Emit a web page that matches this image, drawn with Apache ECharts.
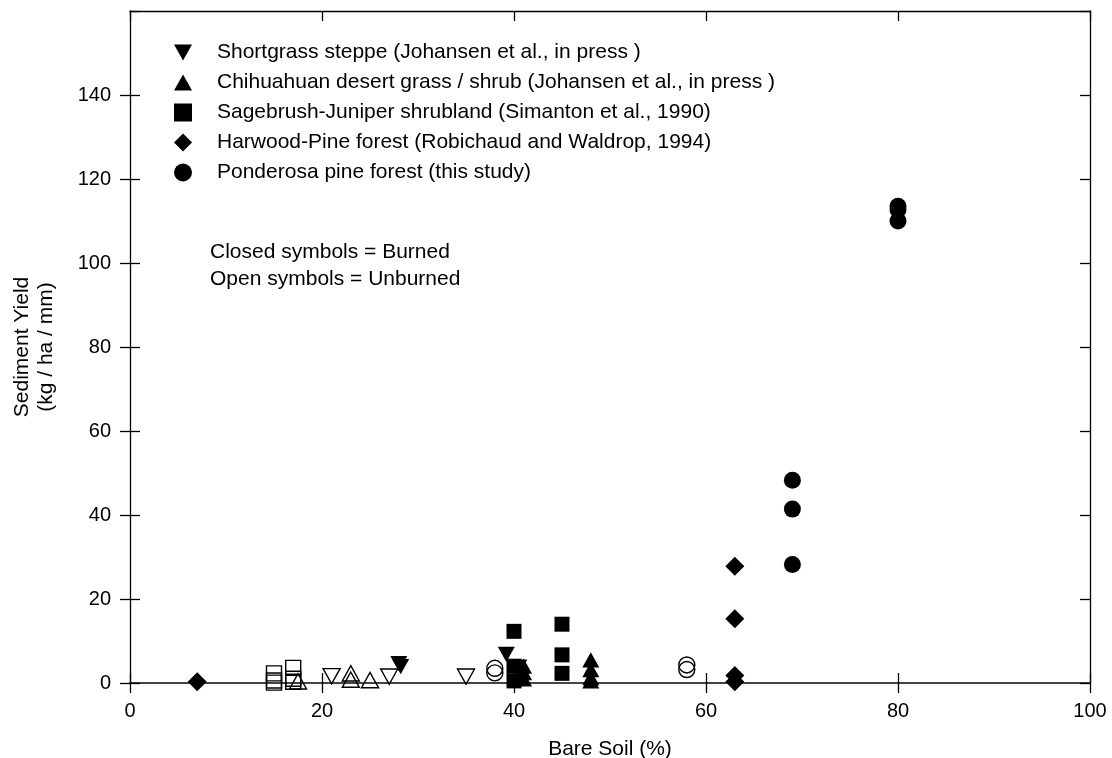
<!DOCTYPE html>
<html>
<head>
<meta charset="utf-8">
<script src="https://cdn.jsdelivr.net/npm/echarts@6/dist/echarts.min.js"></script>
<style>
  html, body { margin: 0; padding: 0; background: #fff; }
  #chart { width: 1112px; height: 758px; }
</style>
</head>
<body>
<div id="chart"></div>
<script>
// [bare soil %, sediment yield kg/ha/mm]
const shortgrassBurned = [[28, 4.6], [28.2, 3.9], [39.2, 6.8], [40.5, 3.8]];
const shortgrassUnburned = [[21, 1.6], [27, 1.5], [35, 1.5]];
const chihuahuanBurned = [[41, 4.0], [41, 2.5], [41, 1.0], [48, 5.5], [48, 3.2], [48, 1.3], [48, 0.5]];
const chihuahuanUnburned = [[17.5, 0.4], [23, 2.3], [23, 0.8], [25, 0.7]];
const sagebrushBurned = [[40, 12.3], [40, 4.0], [40, 0.5], [45, 14.0], [45, 6.7], [45, 2.3]];
const sagebrushUnburned = [[15, 2.3], [15, 0.6], [15, 0.1], [17, 3.6], [17, 1.0], [17, 0.3]];
const harwoodBurned = [[7, 0.3], [63, 27.8], [63, 15.3], [63, 1.8], [63, 0.3]];
const ponderosaBurned = [[69, 48.3], [69, 41.4], [69, 28.2], [80, 113.5], [80, 112.7], [80, 110.0]];
const ponderosaUnburned = [[38, 3.5], [38, 2.4], [58, 4.3], [58, 3.2]];

const legendNames = [
  'Shortgrass steppe (Johansen et al., in press )',
  'Chihuahuan desert grass / shrub (Johansen et al., in press )',
  'Sagebrush-Juniper shrubland (Simanton et al., 1990)',
  'Harwood-Pine forest (Robichaud and Waldrop, 1994)',
  'Ponderosa pine forest (this study)'
];
const noteLines = ['Closed symbols = Burned', 'Open symbols = Unburned'];

const FONT = '"Liberation Sans", Arial, Helvetica, sans-serif';
const FS = 20;
const FS_TEXT = 21;
const downTri = 'path://M0,0 L10,0 L5,9 Z';
const upTri = 'path://M5,0 L10,9 L0,9 Z';

const closed = { color: '#000', opacity: 1 };
const open = { color: 'transparent', borderColor: '#000', borderWidth: 1.4, opacity: 1 };

function scatter(name, data, symbol, size, style) {
  return {
    name, type: 'scatter', data, symbol, symbolSize: size,
    symbolKeepAspect: true, itemStyle: style, emphasis: { disabled: true },
    xAxisIndex: 0, yAxisIndex: 0
  };
}

const chart = echarts.init(document.getElementById('chart'));

const tickStyle = { lineStyle: { color: '#000', width: 1.3 }, length: 10 };
const frameLine = { show: true, onZero: false, lineStyle: { color: '#000', width: 1.3 } };
const gridBox = { left: 130, right: 22, top: 11, bottom: 75, outerBoundsMode: 'none', containLabel: false };
const xRange = { type: 'value', min: 0, max: 100, interval: 20 };
const yRange = { type: 'value', min: 0, max: 160, interval: 20 };

chart.setOption({
  animation: false,
  textStyle: { fontFamily: FONT },
  // three stacked grids: labelled axes, opposite frame, inward tick halves
  grid: [Object.assign({}, gridBox), Object.assign({}, gridBox), Object.assign({}, gridBox)],
  legend: {
    data: legendNames,
    orient: 'vertical',
    left: 169,
    top: 37,
    itemWidth: 18,
    itemHeight: 18,
    itemGap: 9,
    textStyle: { fontSize: FS_TEXT, color: '#000', fontFamily: FONT, padding: [0, 0, 0, 20] },
    selectedMode: false
  },
  graphic: [{
    type: 'text', left: 210, top: 239,
    style: { text: noteLines.join('\n'), font: FS_TEXT + 'px ' + FONT, fill: '#000', lineHeight: 27 }
  }],
  xAxis: [
    Object.assign({}, xRange, {
      gridIndex: 0, position: 'bottom',
      name: 'Bare Soil (%)', nameLocation: 'middle', nameGap: 56,
      nameTextStyle: { fontSize: FS_TEXT, color: '#000' },
      axisLine: { show: true, onZero: false, lineStyle: { color: '#444', width: 1.8 } },
      axisTick: Object.assign({ inside: false }, tickStyle),
      axisLabel: { fontSize: FS, color: '#000', margin: 18 },
      splitLine: { show: false }
    }),
    Object.assign({}, xRange, {
      gridIndex: 1, position: 'top', axisLine: frameLine,
      axisLabel: { show: false }, axisTick: Object.assign({ inside: true }, tickStyle),
      splitLine: { show: false }
    }),
    Object.assign({}, xRange, {
      gridIndex: 2, position: 'bottom', axisLine: { show: false },
      axisLabel: { show: false }, axisTick: Object.assign({ inside: true }, tickStyle),
      splitLine: { show: false }
    })
  ],
  yAxis: [
    Object.assign({}, yRange, {
      gridIndex: 0, position: 'left',
      name: 'Sediment Yield\n(kg / ha / mm)', nameLocation: 'middle', nameGap: 72,
      nameTextStyle: { fontSize: FS_TEXT, color: '#000', lineHeight: 24 },
      axisLine: frameLine,
      axisTick: Object.assign({ inside: false }, tickStyle),
      axisLabel: { fontSize: FS, color: '#000', margin: 19, showMaxLabel: false },
      splitLine: { show: false }
    }),
    Object.assign({}, yRange, {
      gridIndex: 1, position: 'right', axisLine: frameLine,
      axisLabel: { show: false }, axisTick: Object.assign({ inside: true }, tickStyle),
      splitLine: { show: false }
    }),
    Object.assign({}, yRange, {
      gridIndex: 2, position: 'left', axisLine: { show: false },
      axisLabel: { show: false }, axisTick: Object.assign({ inside: true }, tickStyle),
      splitLine: { show: false }
    })
  ],
  series: [
    scatter(legendNames[0], shortgrassBurned, downTri, 17, closed),
    scatter('Shortgrass steppe unburned', shortgrassUnburned, downTri, 17, open),
    scatter(legendNames[1], chihuahuanBurned, upTri, 17, closed),
    scatter('Chihuahuan unburned', chihuahuanUnburned, upTri, 17, open),
    scatter(legendNames[2], sagebrushBurned, 'rect', 15, closed),
    scatter('Sagebrush unburned', sagebrushUnburned, 'rect', 15, open),
    scatter(legendNames[3], harwoodBurned, 'diamond', 19, closed),
    scatter(legendNames[4], ponderosaBurned, 'circle', 17, closed),
    scatter('Ponderosa unburned', ponderosaUnburned, 'circle', 16, open)
  ]
});
</script>
</body>
</html>
